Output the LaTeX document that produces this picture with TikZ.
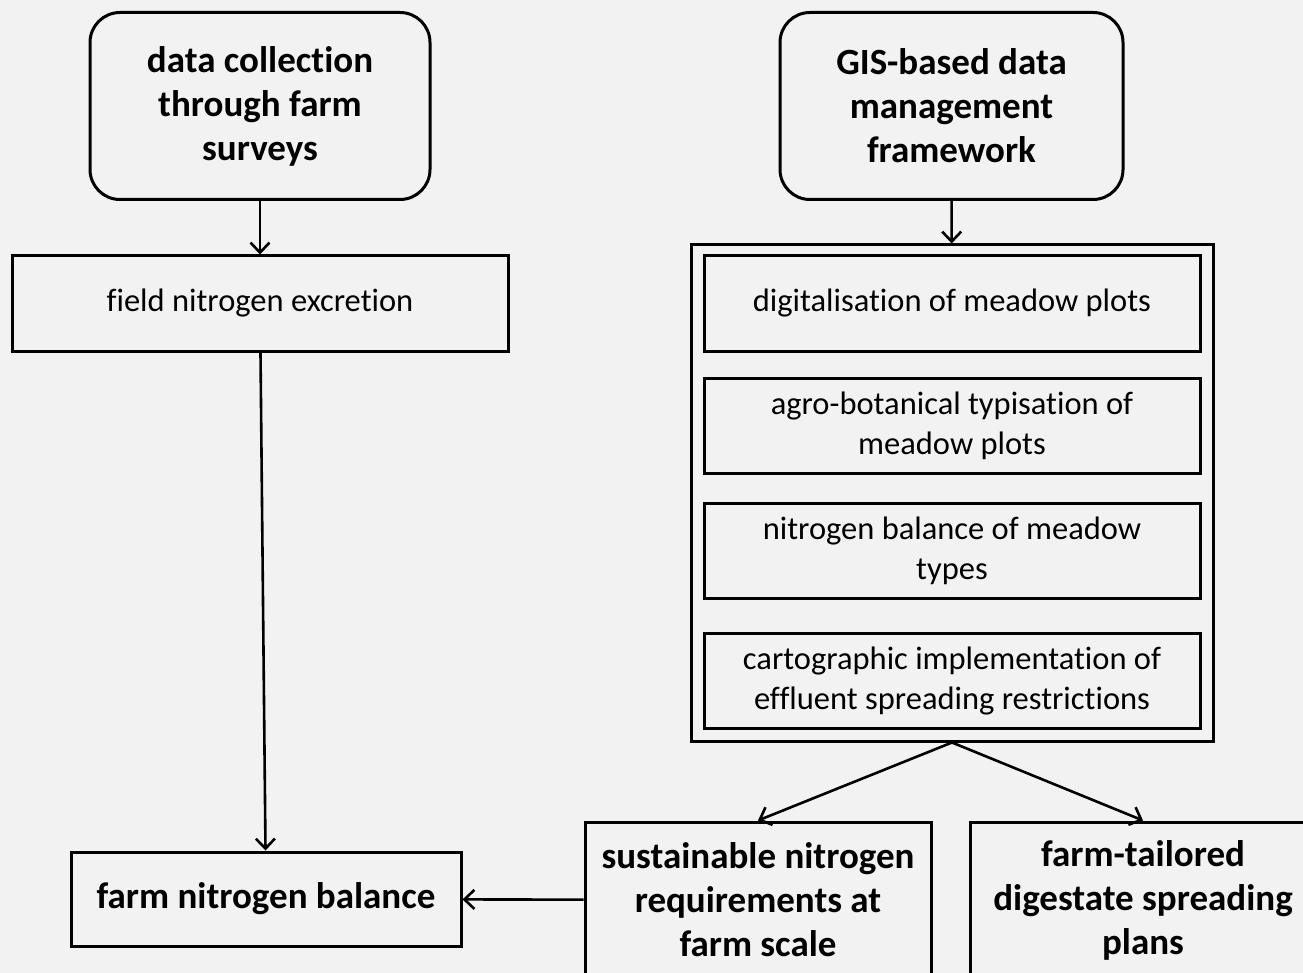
\documentclass[tikz,border=0pt]{standalone}
\usepackage{fontspec}
\setmainfont{Carlito}[Ligatures=NoCommon]
\usetikzlibrary{arrows.meta}
\definecolor{paper}{RGB}{242,242,242}

\begin{document}
\begin{tikzpicture}[x=1pt,y=-1pt,->,>={Straight Barb[length=10pt,width=19pt]},line width=2.6pt,
			start node/.style={draw,rounded corners=30pt,line width=3pt,minimum width=340pt,minimum height=187pt,align=center,font=\fontsize{37}{44}\selectfont\bfseries},
			item node/.style={draw,line width=3pt,minimum width=496pt,minimum height=95pt,align=center,font=\fontsize{32.5}{40}\selectfont},
			result node/.style={draw,line width=3pt,minimum width=346pt,minimum height=156pt,align=center,font=\fontsize{37}{44}\selectfont\bfseries}]
			
			\useasboundingbox (0,0) rectangle (1303,973);
			\fill[paper] (0,0) rectangle (1303,973);
			\clip (0,0) rectangle (1303,973);
			
			% left column
			\node[start node] (survey) at (260,106) {data collection\\through farm\\surveys};
			\node[item node] (fieldN) at (260,303.5) {field nitrogen excretion};
			\node[result node,minimum width=390pt,minimum height=94pt] (farmbal) at (266,899) {farm nitrogen balance};
			
			% right column
			\node[start node,minimum width=343pt] (gis) at (951.5,106) {GIS-based data\\management\\framework};
			\node[draw,line width=3pt,minimum width=522pt,minimum height=496pt] (gisframe) at (952,493) {};
			\node[item node] (digit) at (952,303.5) {digitalisation of meadow plots};
			\node[item node] (typis) at (952,425.5) {agro-botanical typisation of\\meadow plots};
			\node[item node] (nbal) at (952,551) {nitrogen balance of meadow\\types};
			\node[item node] (carto) at (952,681) {cartographic implementation of\\effluent spreading restrictions};
			
			% results
			\node[result node] (sustain) at (758,900) {sustainable nitrogen\\requirements at\\farm scale};
			\node[result node] (tailored) at (1143,900) {farm-tailored\\digestate spreading\\plans};
			
			\path
			(survey) edge (fieldN)
			(fieldN) edge (farmbal)
			(gis) edge (gisframe)
			(gisframe.south) edge (sustain.north)
			(gisframe.south) edge (tailored.north)
			(sustain) edge (farmbal)
			;
\end{tikzpicture}
\end{document}
